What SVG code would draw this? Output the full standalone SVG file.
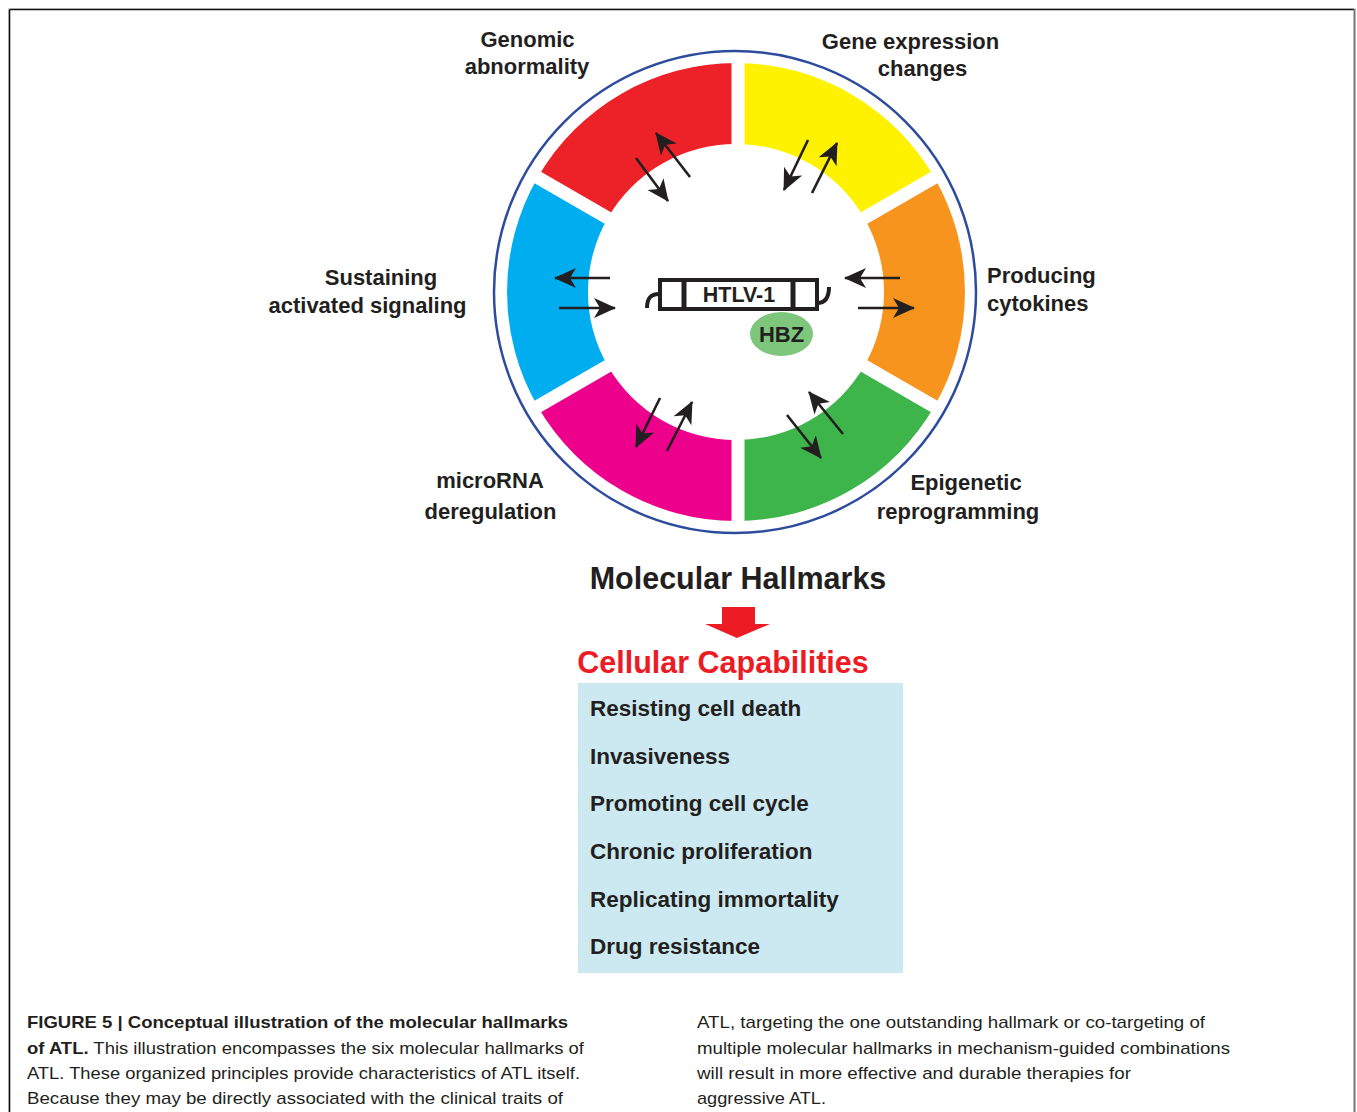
<svg xmlns="http://www.w3.org/2000/svg" width="1357" height="1112" viewBox="0 0 1357 1112">
<defs>
<style>
.lbl{font-family:"Liberation Sans",Arial,sans-serif;font-weight:bold;font-size:22px;fill:#231F20}
.item{font-family:"Liberation Sans",Arial,sans-serif;font-weight:bold;font-size:22.5px;fill:#231F20}
.cap{font-family:"Liberation Sans",Arial,sans-serif;font-size:17px;fill:#231F20}
.b{font-weight:bold}
.arr{stroke:#231F20;stroke-width:2.6;fill:none;marker-end:url(#ah)}
.gap{stroke:#FFFFFF;stroke-width:13}
</style>
<marker id="ah" viewBox="0 -11 22 22" refX="21" refY="0" markerWidth="22" markerHeight="22" markerUnits="userSpaceOnUse" orient="auto">
<path d="M22,0 L0,-10 L6,0 L0,10 Z" fill="#231F20"/>
</marker>
</defs>
<rect width="1357" height="1112" fill="#FFFFFF"/>
<g id="frame">
<line x1="8" y1="8.5" x2="1356" y2="8.5" stroke="#DDDDDD" stroke-width="1"/>
<line x1="8.5" y1="8" x2="8.5" y2="1112" stroke="#DDDDDD" stroke-width="1"/>
<line x1="9.5" y1="9.5" x2="1354" y2="9.5" stroke="#111111" stroke-width="1.6"/>
<line x1="9.5" y1="9.5" x2="9.5" y2="1112" stroke="#111111" stroke-width="1.6"/>
<line x1="1354.5" y1="9" x2="1354.5" y2="1112" stroke="#777777" stroke-width="2"/>
</g>
<g id="ring">
<circle cx="735" cy="292" r="241" fill="none" stroke="#2E4C9E" stroke-width="2.5"/>
<path id="seg-orange" d="M934.3,406.5 A229,229 0 0 0 934.3,177.5 L864.2,218 A148,148 0 0 1 864.2,366 Z" fill="#F7941E"/>
<path id="seg-yellow" d="M934.3,177.5 A229,229 0 0 0 736,63 L736,144 A148,148 0 0 1 864.2,218 Z" fill="#FFF200"/>
<path id="seg-red" d="M736,63 A229,229 0 0 0 537.7,177.5 L607.8,218 A148,148 0 0 1 736,144 Z" fill="#ED2229"/>
<path id="seg-blue" d="M537.7,177.5 A229,229 0 0 0 537.7,406.5 L607.8,366 A148,148 0 0 1 607.8,218 Z" fill="#00AEEF"/>
<path id="seg-magenta" d="M537.7,406.5 A229,229 0 0 0 736,521 L736,440 A148,148 0 0 1 607.8,366 Z" fill="#EC008C"/>
<path id="seg-green" d="M736,521 A229,229 0 0 0 934.3,406.5 L864.2,366 A148,148 0 0 1 736,440 Z" fill="#3DB54A"/>
<line class="gap" x1="738" y1="55" x2="738" y2="529"/>
<line class="gap" x1="939.5" y1="174.5" x2="532.5" y2="409.5"/>
<line class="gap" x1="532.5" y1="174.5" x2="939.5" y2="409.5"/>
</g>
<g id="htlv1">
<path d="M647,308 C647,298 651,294 659,294" fill="none" stroke="#231F20" stroke-width="4"/>
<path d="M817,303 C826,303 829,296 829,287" fill="none" stroke="#231F20" stroke-width="4"/>
<rect x="660" y="280" width="157" height="29" fill="#FFFFFF" stroke="#231F20" stroke-width="4"/>
<line x1="684" y1="280" x2="684" y2="309" stroke="#231F20" stroke-width="5"/>
<line x1="793" y1="280" x2="793" y2="309" stroke="#231F20" stroke-width="5"/>
<text class="lbl" x="739" y="302" text-anchor="middle" style="font-size:21.5px">HTLV-1</text>
</g>
<g id="hbz">
<ellipse cx="781.5" cy="334" rx="31.5" ry="22" fill="#7DC67B"/>
<text class="lbl" x="781.5" y="342" text-anchor="middle">HBZ</text>
</g>
<g id="connectors">
<line class="arr" x1="636" y1="158" x2="668" y2="201"/>
<line class="arr" x1="690" y1="177" x2="656" y2="133"/>
<line class="arr" x1="808" y1="140" x2="784" y2="190"/>
<line class="arr" x1="812" y1="193" x2="837" y2="143"/>
<line class="arr" x1="610" y1="278" x2="555" y2="278"/>
<line class="arr" x1="559" y1="308" x2="615" y2="308"/>
<line class="arr" x1="900" y1="278" x2="845" y2="278"/>
<line class="arr" x1="858" y1="308" x2="914" y2="308"/>
<line class="arr" x1="660" y1="398" x2="636" y2="447"/>
<line class="arr" x1="667" y1="451" x2="692" y2="402"/>
<line class="arr" x1="787" y1="415" x2="821" y2="458"/>
<line class="arr" x1="843" y1="434" x2="809" y2="392"/>
</g>
<g id="labels">
<text class="lbl" x="527.5" y="47" text-anchor="middle">Genomic</text>
<text class="lbl" x="527" y="74" text-anchor="middle">abnormality</text>
<text class="lbl" x="910.5" y="49" text-anchor="middle">Gene expression</text>
<text class="lbl" x="922.5" y="76" text-anchor="middle">changes</text>
<text class="lbl" x="381" y="285" text-anchor="middle">Sustaining</text>
<text class="lbl" x="367.5" y="313" text-anchor="middle">activated signaling</text>
<text class="lbl" x="987" y="283">Producing</text>
<text class="lbl" x="987" y="311">cytokines</text>
<text class="lbl" x="490" y="488" text-anchor="middle">microRNA</text>
<text class="lbl" x="490.5" y="519" text-anchor="middle">deregulation</text>
<text class="lbl" x="966" y="490" text-anchor="middle">Epigenetic</text>
<text class="lbl" x="958" y="519" text-anchor="middle">reprogramming</text>
</g>
<g id="hallmarks">
<text class="lbl" x="738" y="589" text-anchor="middle" style="font-size:30.5px">Molecular Hallmarks</text>
</g>
<g id="down-arrow">
<path d="M722,607 L755,607 L755,624 L770,624 L737,638 L705,624 L722,624 Z" fill="#ED1C24"/>
</g>
<g id="capabilities">
<text class="lbl" x="723" y="673" text-anchor="middle" style="font-size:30.5px;fill:#ED1C24">Cellular Capabilities</text>
<rect x="578" y="683" width="325" height="290" fill="#CCE9F1"/>
<text class="item" x="590" y="716">Resisting cell death</text>
<text class="item" x="590" y="764">Invasiveness</text>
<text class="item" x="590" y="811">Promoting cell cycle</text>
<text class="item" x="590" y="859">Chronic proliferation</text>
<text class="item" x="590" y="907">Replicating immortality</text>
<text class="item" x="590" y="954">Drug resistance</text>
</g>
<g id="caption">
<text class="cap b" x="27" y="1028" textLength="541" lengthAdjust="spacingAndGlyphs">FIGURE 5 | Conceptual illustration of the molecular hallmarks</text>
<text class="cap" x="27" y="1054" textLength="557" lengthAdjust="spacingAndGlyphs"><tspan class="b">of ATL.</tspan> This illustration encompasses the six molecular hallmarks of</text>
<text class="cap" x="27" y="1079" textLength="553" lengthAdjust="spacingAndGlyphs">ATL. These organized principles provide characteristics of ATL itself.</text>
<text class="cap" x="27" y="1104" textLength="536" lengthAdjust="spacingAndGlyphs">Because they may be directly associated with the clinical traits of</text>
<text class="cap" x="697" y="1028" textLength="508" lengthAdjust="spacingAndGlyphs">ATL, targeting the one outstanding hallmark or co-targeting of</text>
<text class="cap" x="697" y="1054" textLength="533" lengthAdjust="spacingAndGlyphs">multiple molecular hallmarks in mechanism-guided combinations</text>
<text class="cap" x="697" y="1079" textLength="434" lengthAdjust="spacingAndGlyphs">will result in more effective and durable therapies for</text>
<text class="cap" x="697" y="1104" textLength="129" lengthAdjust="spacingAndGlyphs">aggressive ATL.</text>
</g>
</svg>
